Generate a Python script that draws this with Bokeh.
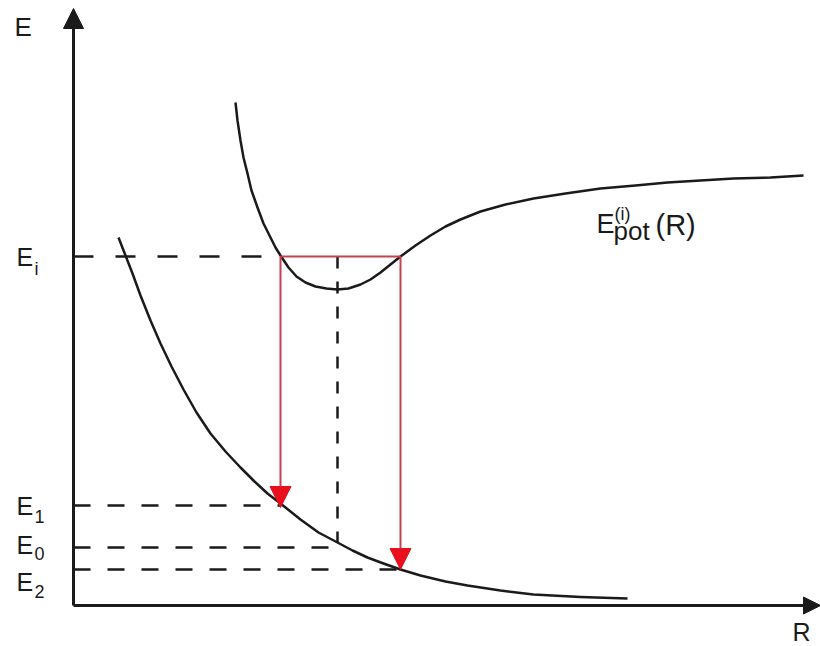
from bokeh.plotting import figure
from bokeh.models import Range1d, Arrow, NormalHead, ColumnDataSource
from bokeh.core.properties import value
from bokeh.embed import file_html
from bokeh.resources import INLINE

# Excited-state potential curve E_pot^(i)(R): (R, E) in arbitrary units
R_upper = [162, 164, 167, 170, 174, 178, 184, 190, 197, 202, 207, 215, 223, 232,
           242, 253, 264, 275, 287, 297, 307, 317, 327, 342, 357, 372, 387, 407,
           432, 460, 492, 527, 562, 594, 627, 660, 697, 730]
E_upper = [503, 485, 465, 448, 432, 415, 398, 382, 368, 358, 350, 338, 329, 323,
           319, 317, 316, 317, 321, 326, 333, 341, 349, 360, 370, 379, 386, 394,
           401, 407, 412, 417, 420, 423, 425, 427, 428, 430]

# Repulsive lower-state curve
R_lower = [45, 52, 59, 67, 77, 87, 98, 110, 123, 137, 152, 167, 181, 194, 207,
           227, 245, 264, 279, 294, 310, 327, 347, 372, 394, 427, 460, 507, 554]
E_lower = [368, 350, 332, 310, 285, 262, 239, 216, 193, 172, 154, 138, 124, 112,
           102, 86, 73, 63, 55, 48, 42, 36, 30, 24, 20, 15, 11, 8.5, 7]

# Energy levels and characteristic distances
E_i, E_1, E_0, E_2 = 349, 100, 58, 36
R_left, R_eq, R_right = 207, 264, 327
E_eq_lower = 63
R_E0_end = 259

# Level labels: letter, subscript, label heights
level_names = ["E", "E", "E", "E"]
level_subs = ["i", "1", "0", "2"]
label_y = [349, 100, 61, 24]
sub_y = [337, 89, 52, 14]

FONT = value("Liberation Sans")
INK = "#1a1a1a"
RED_LINE = "#c8414f"
RED_HEAD = "#e8101c"

p = figure(width=820, height=646, output_backend="svg", toolbar_location=None,
           x_range=Range1d(-73, 747), y_range=Range1d(-41, 605), min_border=0,
           x_axis_type=None, y_axis_type=None)
p.grid.visible = False
p.outline_line_color = None
p.background_fill_color = "white"
p.border_fill_color = "white"

# Axes with arrowheads
p.add_layout(Arrow(x_start=0, y_start=0, x_end=0, y_end=597, line_width=3, line_color=INK,
                   end=NormalHead(size=20, fill_color=INK, line_color=INK)))
p.add_layout(Arrow(x_start=0, y_start=0, x_end=747, y_end=0, line_width=3, line_color=INK,
                   end=NormalHead(size=17, fill_color=INK, line_color=INK)))

# Dashed energy levels
p.line([0, R_left], [E_i, E_i], line_color=INK, line_width=2.5, line_dash="20 22")
p.line([0, R_left], [E_1, E_1], line_color=INK, line_width=2.5, line_dash="17 17")
p.line([0, R_E0_end], [E_0, E_0], line_color=INK, line_width=2.5, line_dash="17 17")
p.line([0, R_right], [E_2, E_2], line_color=INK, line_width=2.5, line_dash="17 17")
p.line([R_eq, R_eq], [E_i, E_eq_lower], line_color=INK, line_width=2.5, line_dash="12 13")

# Potential curves
p.line(R_upper, E_upper, line_color=INK, line_width=2.5, line_join="round")
p.line(R_lower, E_lower, line_color=INK, line_width=2.5, line_join="round")

# Transitions
p.line([R_left, R_right], [E_i, E_i], line_color=RED_LINE, line_width=2)
p.add_layout(Arrow(x_start=R_left, y_start=E_i, x_end=R_left, y_end=E_1 - 2,
                   line_color=RED_LINE, line_width=2,
                   end=NormalHead(size=21, fill_color=RED_HEAD, line_color=RED_HEAD)))
p.add_layout(Arrow(x_start=R_right, y_start=E_i, x_end=R_right, y_end=E_2,
                   line_color=RED_LINE, line_width=2,
                   end=NormalHead(size=21, fill_color=RED_HEAD, line_color=RED_HEAD)))

# Level labels
lab = ColumnDataSource(dict(x=[-57] * 4, y=label_y, t=level_names))
sub = ColumnDataSource(dict(x=[-39] * 4, y=sub_y, t=level_subs))
p.text("x", "y", text="t", source=lab, text_font=FONT, text_font_size="25px",
       text_color=INK, text_baseline="alphabetic")
p.text("x", "y", text="t", source=sub, text_font=FONT, text_font_size="18px",
       text_color=INK, text_baseline="alphabetic")

# Axis titles
p.text(x=[-59], y=[579], text=["E"], text_font=FONT, text_font_size="26px",
       text_color=INK, text_baseline="alphabetic")
p.text(x=[719], y=[-26], text=["R"], text_font=FONT, text_font_size="25px",
       text_color=INK, text_baseline="alphabetic")

# Curve label E_pot^(i)(R)
p.text(x=[523], y=[382], text=["E"], text_font=FONT, text_font_size="27px",
       text_color=INK, text_baseline="alphabetic")
p.text(x=[541], y=[392], text=["(i)"], text_font=FONT, text_font_size="18px",
       text_color=INK, text_baseline="alphabetic")
p.text(x=[540], y=[375], text=["pot"], text_font=FONT, text_font_size="26px",
       text_color=INK, text_baseline="alphabetic")
p.text(x=[582], y=[381], text=["(R)"], text_font=FONT, text_font_size="29px",
       text_color=INK, text_baseline="alphabetic")

open("out.html", "w").write(file_html(p, INLINE))
